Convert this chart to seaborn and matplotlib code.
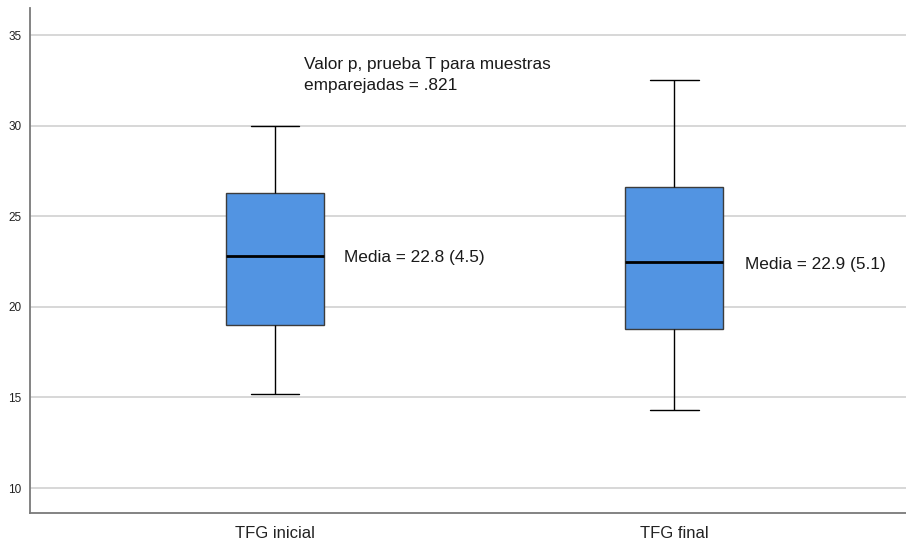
import numpy as np
import pandas as pd
import matplotlib
matplotlib.use("Agg")
import matplotlib.pyplot as plt
import seaborn as sns

# Five-number summaries (min, Q1, median, Q3, max) of the eGFR at each visit
categories = ["TFG inicial", "TFG final"]
tfg_inicial = [15.2, 19.0, 22.8, 26.3, 30.0]
tfg_final = [14.3, 18.8, 22.5, 26.6, 32.5]
means = [22.8, 22.9]
sds = [4.5, 5.1]
p_value = ".821"
y_ticks = [10, 15, 20, 25, 30, 35]

df = pd.DataFrame({
    "grupo": [categories[0]] * len(tfg_inicial) + [categories[1]] * len(tfg_final),
    "TFG": tfg_inicial + tfg_final,
})

sns.set_theme(style="white")
plt.rcParams["font.family"] = ["Liberation Sans", "DejaVu Sans"]

fig = plt.figure(figsize=(9.06, 5.41), dpi=100)
ax = fig.add_axes([30 / 906, 28 / 541, 876 / 906, 505 / 541])

sns.boxplot(
    data=df, x="grupo", y="TFG", order=categories, ax=ax,
    color="#5294e2", saturation=1, width=0.245, whis=1.5,
    boxprops=dict(edgecolor="#3c3c3c", linewidth=1.0),
    medianprops=dict(color="black", linewidth=2.0),
    whiskerprops=dict(color="black", linewidth=1.0),
    capprops=dict(color="black", linewidth=1.0),
    showfliers=False,
)

ax.set_xlim(-0.614, 1.581)
ax.set_ylim(8.62, 36.5)
ax.set_yticks(y_ticks)
ax.yaxis.grid(True, color="#d4d4d4", linewidth=1.3)
ax.set_axisbelow(True)
ax.set_xlabel("")
ax.set_ylabel("")
ax.tick_params(axis="y", labelsize=8.5, colors="#222222", length=0, pad=6)
ax.tick_params(axis="x", labelsize=12, colors="#222222", length=0, pad=9)

for side in ["top", "right"]:
    ax.spines[side].set_visible(False)
for side in ["left", "bottom"]:
    ax.spines[side].set_color("#7a7a7a")
    ax.spines[side].set_linewidth(1.3)

# Mean (SD) labels next to each box
label_pos = [(0.173, 22.7), (1.178, 22.35)]
for (x, y), m, s in zip(label_pos, means, sds):
    ax.text(x, y, f"Media = {m} ({s})", fontsize=12.4, color="#1a1a1a",
            ha="left", va="center")

ax.text(0.073, 32.8, f"Valor p, prueba T para muestras\nemparejadas = {p_value}",
        fontsize=12.4, color="#1a1a1a", ha="left", va="center", linespacing=1.5)

fig.savefig("out.png", dpi=100)
